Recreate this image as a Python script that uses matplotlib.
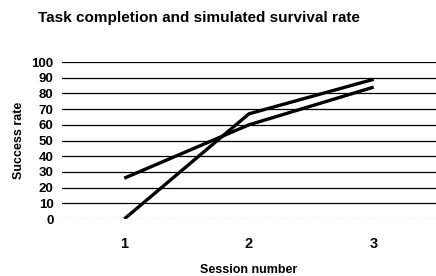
import matplotlib
matplotlib.use("Agg")
import matplotlib.pyplot as plt

plt.rcParams['font.family'] = ['Liberation Sans', 'DejaVu Sans']

sessions = [1, 2, 3]
session_labels = ["1", "2", "3"]
task_completion = [26, 60, 84]
survival_rate = [0, 67, 89]
y_ticks = list(range(0, 101, 10))

fig = plt.figure(figsize=(4.36, 2.76), dpi=100)
ax = fig.add_axes([0.142, 0.2065, 0.858, 0.5688])

# gridlines (the zero line looks faint in the original)
for v in y_ticks:
    if v == 0:
        ax.axhline(v, color="#777777", lw=0.8, ls=(0, (3, 2)), zorder=1)
    else:
        ax.axhline(v, color="black", lw=0.9, zorder=1)

ax.plot(sessions, task_completion, color="black", lw=2.4, solid_capstyle="butt", zorder=3)
ax.plot(sessions, survival_rate, color="black", lw=2.4, solid_capstyle="butt", zorder=3)

ax.set_xlim(0.5, 3.5)
ax.set_ylim(0, 100)
ax.set_xticks(sessions)
ax.set_xticklabels(session_labels, fontsize=10.5, fontweight="bold")
ax.set_yticks(y_ticks)
ax.set_yticklabels([str(v) for v in y_ticks], fontsize=9.5, fontweight="bold")
ax.tick_params(length=0)
ax.tick_params(axis="x", pad=13)
ax.tick_params(axis="y", pad=6)
for s in ax.spines.values():
    s.set_visible(False)

ax.set_xlabel("Session number", fontsize=9, fontweight="bold", labelpad=9)
ax.set_ylabel("Success rate", fontsize=9, fontweight="bold", labelpad=5)
fig.text(0.087, 0.935, "Task completion and simulated survival rate",
         fontsize=11, fontweight="bold", ha="left", va="center")

fig.savefig("out.png", dpi=100)
